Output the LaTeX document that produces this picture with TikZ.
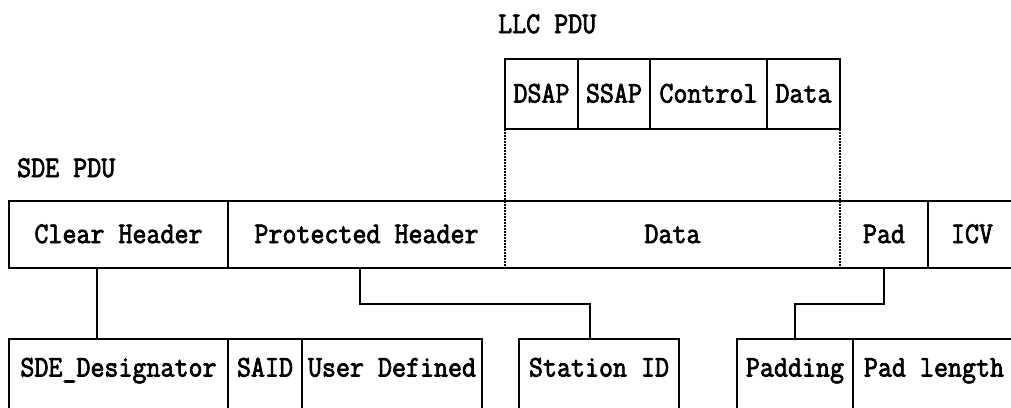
\documentclass[tikz,border=0pt]{standalone}
\usetikzlibrary{calc}
\newcommand\cellfont{\ttfamily\fontsize{27.2}{30}\selectfont}
\newcommand\bt[1]{\scalebox{1}[1.1]{\special{pdf:literal direct 2 Tr 0.7 w}#1\special{pdf:literal direct 0 Tr 1 w}}}
\tikzset{
 cell/.style={inner sep=0pt, outer sep=0pt, font=\cellfont, anchor=north west, text height=17pt, text depth=0pt},
 boxed/.style={cell, draw, line width=2pt},
 low/.style={text depth=18pt},
 conn/.style={line width=2pt, line join=miter},
 guide/.style={line width=1.1pt, dash pattern=on 1.5pt off 1.5pt},
 title/.style={font=\cellfont, anchor=base west, inner sep=0pt}
}
\begin{document}
\begin{tikzpicture}[x=1pt,y=-1pt]
\clip (0,0) rectangle (1011,407);
\fill[white] (0,0) rectangle (1011,407);
% titles
\node[title] (llclabel) at (498,33) {\bt{LLC PDU}};
\node[title] (sdelabel) at (17,177) {\bt{SDE PDU}};
% LLC PDU
\node[boxed, minimum width=73pt, minimum height=70pt] (dsap) at (505,59) {\bt{DSAP}};
\node[boxed, minimum width=72pt, minimum height=70pt] (ssap) at (578,59) {\bt{SSAP}};
\node[boxed, minimum width=117pt, minimum height=70pt] (ctrl) at (650,59) {\bt{Control}};
\node[boxed, minimum width=73pt, minimum height=70pt] (llcdata) at (767,59) {\bt{Data}};
% SDE PDU
\node[cell, minimum width=219pt, minimum height=67pt] (clear) at (9,201) {\bt{Clear Header}};
\node[cell, minimum width=277pt, minimum height=67pt] (prot) at (228,201) {\bt{Protected Header}};
\node[cell, minimum width=335pt, minimum height=67pt] (data) at (505,201) {\bt{Data}};
\node[cell, minimum width=88pt, minimum height=67pt] (pad) at (840,201) {\bt{Pad}};
\node[cell, minimum width=88pt, minimum height=67pt] (icv) at (928,201) {\bt{ICV}};
\draw[conn] (icv.north east) -- (clear.north west) -- (clear.south west) -- (icv.south east);
\draw[conn] (prot.north west) -- (prot.south west);
\draw[conn] (icv.north west) -- (icv.south west);
\draw[conn] (icv.north east) -- (icv.south east);
\draw[guide] (dsap.south west) -- (data.south west);
\draw[guide] (llcdata.south east) -- (data.south east);
% lower fields
\node[boxed, low, minimum width=219pt, minimum height=76pt] (sdedes) at (9,339) {\bt{SDE\_Designator}};
\node[boxed, low, minimum width=74pt, minimum height=76pt] (said) at (228,339) {\bt{SAID}};
\node[boxed, low, minimum width=180pt, minimum height=76pt] (user) at (302,339) {\bt{User Defined}};
\node[boxed, low, minimum width=160pt, minimum height=76pt] (station) at (519,339) {\bt{Station ID}};
\node[boxed, low, minimum width=116pt, minimum height=76pt] (padding) at (737,339) {\bt{Padding}};
\node[boxed, low, minimum width=162pt, minimum height=76pt] (padlen) at (853,339) {\bt{Pad length}};
% connectors
\coordinate (c1) at ($(clear.south west)!0.4!(clear.south east)$);
\draw[conn] (c1) -- (c1 |- sdedes.north);
\coordinate (p1) at ($(prot.south west)!0.475!(prot.south east)$);
\coordinate (s1) at ($(station.north west)!0.444!(station.north east)$);
\draw[conn] (p1) |- ($(p1)!0.5!(s1)$) -| (s1);
\draw[conn] (pad.south) |- ($(pad.south)!0.5!(padding.north)$) -| (padding.north);
\end{tikzpicture}
\end{document}
